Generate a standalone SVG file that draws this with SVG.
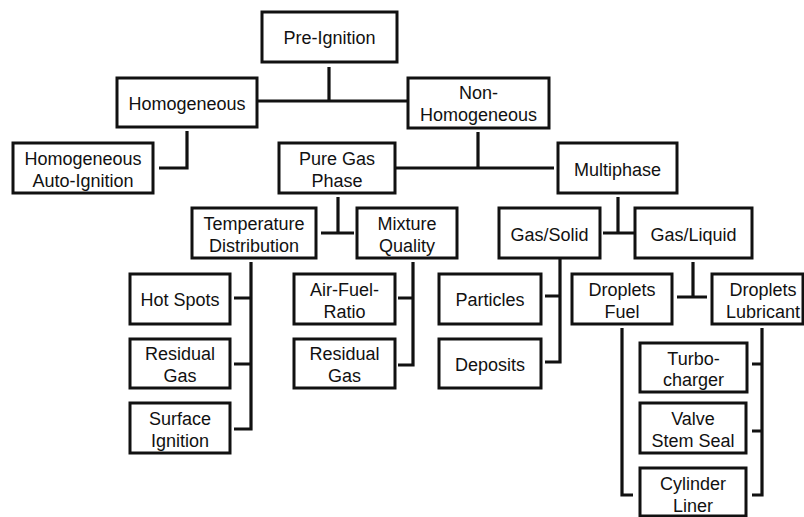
<svg xmlns="http://www.w3.org/2000/svg" width="804" height="517" viewBox="0 0 804 517">
<style>
.box{fill:#fff;stroke:#111;stroke-width:3}
.lbl{font-family:"Liberation Sans",Arial,sans-serif;font-size:18px;fill:#111;text-anchor:middle}
.con{fill:none;stroke:#111;stroke-width:3.2;stroke-linejoin:miter}
</style>
<rect width="804" height="517" fill="#fff"/>
<g id="connectors" class="con">
<path d="M329,67V101M257,101H408"/>
<path d="M187,131V168H159"/>
<path d="M478,132V168M395,168H554"/>
<path d="M338,197V233M321,233H354"/>
<path d="M251,262V429H234M234,298H251M234,364H251"/>
<path d="M413,262V365H398M398,298H413"/>
<path d="M618,197V233M603,233H634"/>
<path d="M560,258V362H545M545,296H560"/>
<path d="M693,262V297M677,297H707"/>
<path d="M622,328V495H633"/>
<path d="M762,328V495H752M752,364H762M752,431H762"/>
</g>
<g id="pre-ignition"><rect class="box" x="262" y="12" width="135" height="50"/><text class="lbl" x="329.5" y="44">Pre-Ignition</text></g>
<g id="homogeneous"><rect class="box" x="117" y="78" width="140" height="49"/><text class="lbl" x="187" y="110">Homogeneous</text></g>
<g id="non-homogeneous"><rect class="box" x="408" y="78" width="141" height="50"/><text class="lbl" x="478.5" y="99">Non-</text><text class="lbl" x="478.5" y="121">Homogeneous</text></g>
<g id="homogeneous-auto-ignition"><rect class="box" x="13" y="143" width="140" height="50"/><text class="lbl" x="83" y="165">Homogeneous</text><text class="lbl" x="83" y="187">Auto-Ignition</text></g>
<g id="pure-gas-phase"><rect class="box" x="279" y="143" width="116" height="50"/><text class="lbl" x="337" y="165">Pure Gas</text><text class="lbl" x="337" y="187">Phase</text></g>
<g id="multiphase"><rect class="box" x="558" y="143" width="119" height="50"/><text class="lbl" x="617.5" y="176">Multiphase</text></g>
<g id="temperature-distribution"><rect class="box" x="192" y="208" width="124" height="50"/><text class="lbl" x="254" y="230">Temperature</text><text class="lbl" x="254" y="252">Distribution</text></g>
<g id="mixture-quality"><rect class="box" x="357" y="208" width="100" height="50"/><text class="lbl" x="407" y="230">Mixture</text><text class="lbl" x="407" y="252">Quality</text></g>
<g id="gas-solid"><rect class="box" x="499" y="208" width="101" height="50"/><text class="lbl" x="549.5" y="241">Gas/Solid</text></g>
<g id="gas-liquid"><rect class="box" x="635" y="208" width="117" height="50"/><text class="lbl" x="693.5" y="241">Gas/Liquid</text></g>
<g id="hot-spots"><rect class="box" x="130" y="274" width="100" height="50"/><text class="lbl" x="180" y="306">Hot Spots</text></g>
<g id="residual-gas-1"><rect class="box" x="130" y="339" width="100" height="49"/><text class="lbl" x="180" y="360">Residual</text><text class="lbl" x="180" y="382">Gas</text></g>
<g id="surface-ignition"><rect class="box" x="130" y="403" width="100" height="50"/><text class="lbl" x="180" y="425">Surface</text><text class="lbl" x="180" y="447">Ignition</text></g>
<g id="air-fuel-ratio"><rect class="box" x="294" y="274" width="101" height="50"/><text class="lbl" x="344.5" y="296">Air-Fuel-</text><text class="lbl" x="344.5" y="318">Ratio</text></g>
<g id="residual-gas-2"><rect class="box" x="294" y="339" width="101" height="49"/><text class="lbl" x="344.5" y="360">Residual</text><text class="lbl" x="344.5" y="382">Gas</text></g>
<g id="particles"><rect class="box" x="439" y="274" width="102" height="50"/><text class="lbl" x="490" y="306">Particles</text></g>
<g id="deposits"><rect class="box" x="439" y="339" width="102" height="49"/><text class="lbl" x="490" y="371">Deposits</text></g>
<g id="droplets-fuel"><rect class="box" x="572" y="274" width="100" height="50"/><text class="lbl" x="622" y="296">Droplets</text><text class="lbl" x="622" y="318">Fuel</text></g>
<g id="droplets-lubricant"><rect class="box" x="712" y="274" width="91" height="50"/><text class="lbl" x="763" y="296">Droplets</text><text class="lbl" x="763" y="318">Lubricant</text></g>
<g id="turbocharger"><rect class="box" x="640" y="343" width="107" height="49"/><text class="lbl" x="693.5" y="365">Turbo-</text><text class="lbl" x="693.5" y="386">charger</text></g>
<g id="valve-stem-seal"><rect class="box" x="640" y="403" width="106" height="50"/><text class="lbl" x="693" y="425">Valve</text><text class="lbl" x="693" y="447">Stem Seal</text></g>
<g id="cylinder-liner"><rect class="box" x="640" y="468" width="106" height="48"/><text class="lbl" x="693" y="490">Cylinder</text><text class="lbl" x="693" y="512">Liner</text></g>
</svg>
